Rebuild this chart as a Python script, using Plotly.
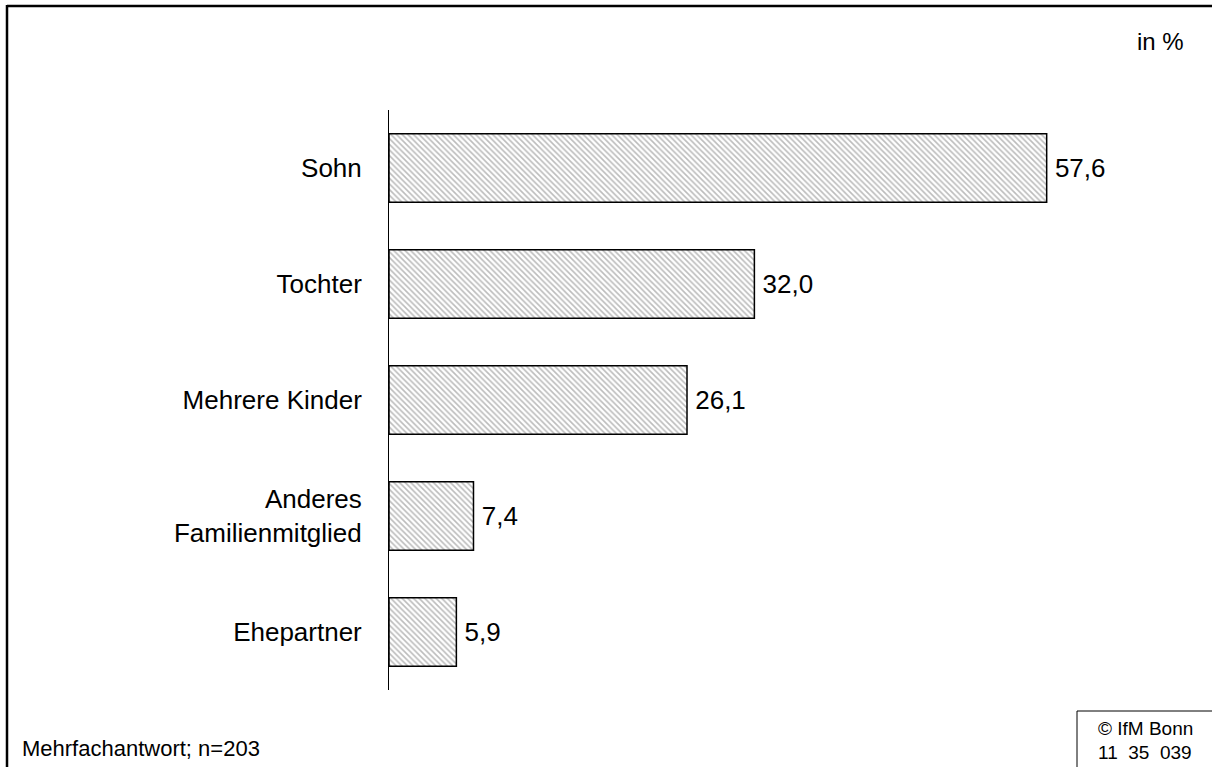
import plotly.graph_objects as go

categories = ["Sohn", "Tochter", "Mehrere Kinder", "Anderes<br>Familienmitglied", "Ehepartner"]
values = [57.6, 32.0, 26.1, 7.4, 5.9]
value_labels = ["57,6", "32,0", "26,1", "7,4", "5,9"]

W, H = 1212, 767
L, R, T, B = 389, 42, 110, 77
PW, PH = W - L - R, H - T - B

def px(x):
    return (x - L) / PW

def py(y):
    return 1 - (y - T) / PH

FONT = "Liberation Sans, Arial, sans-serif"

fig = go.Figure(go.Bar(
    y=categories, x=values, orientation="h",
    text=["\u2009" + v for v in value_labels], textposition="outside", cliponaxis=False,
    textfont=dict(size=26, color="black", family=FONT),
    marker=dict(color="white", line=dict(color="black", width=1.5),
                pattern=dict(shape="\\", fgcolor="#7a7a7a", bgcolor="white", size=4, solidity=0.4)),
))

fig.update_layout(
    width=W, height=H, margin=dict(l=L, r=R, t=T, b=B),
    paper_bgcolor="white", plot_bgcolor="white",
    bargap=0.41, showlegend=False,
    font=dict(family=FONT, size=26, color="black"),
    xaxis=dict(range=[0, 68.4], visible=False, showgrid=False, zeroline=False),
    yaxis=dict(autorange="reversed", showline=True, linecolor="black", linewidth=1,
               ticks="", showgrid=False, zeroline=False, ticklabelstandoff=21,
               tickfont=dict(size=26, family=FONT, color="black")),
)

shapes = [
    dict(type="line", xref="paper", yref="paper", x0=px(7), x1=px(1215), y0=py(6), y1=py(6),
         line=dict(color="black", width=2.5)),
    dict(type="line", xref="paper", yref="paper", x0=px(7), x1=px(7), y0=py(5), y1=py(770),
         line=dict(color="black", width=2.5)),
    dict(type="rect", xref="paper", yref="paper", x0=px(1077), x1=px(1216), y0=py(711), y1=py(771),
         line=dict(color="black", width=1)),
]
fig.update_layout(shapes=shapes)

fig.add_annotation(text="in %", xref="paper", yref="paper", x=px(1186), y=py(41),
                   xanchor="right", yanchor="middle", showarrow=False, font=dict(size=24))
fig.add_annotation(text="Mehrfachantwort; n=203", xref="paper", yref="paper", x=px(20), y=py(748),
                   xanchor="left", yanchor="middle", showarrow=False, font=dict(size=22))
fig.add_annotation(text="© IfM Bonn", xref="paper", yref="paper", x=px(1145), y=py(728),
                   xanchor="center", yanchor="middle", showarrow=False, font=dict(size=19))
fig.add_annotation(text="11  35  039", xref="paper", yref="paper", x=px(1145), y=py(752),
                   xanchor="center", yanchor="middle", showarrow=False, font=dict(size=19))

fig.write_html("out.html", config={"displayModeBar": False},
               post_script="document.body.style.margin='0';document.body.style.overflow='hidden';")
